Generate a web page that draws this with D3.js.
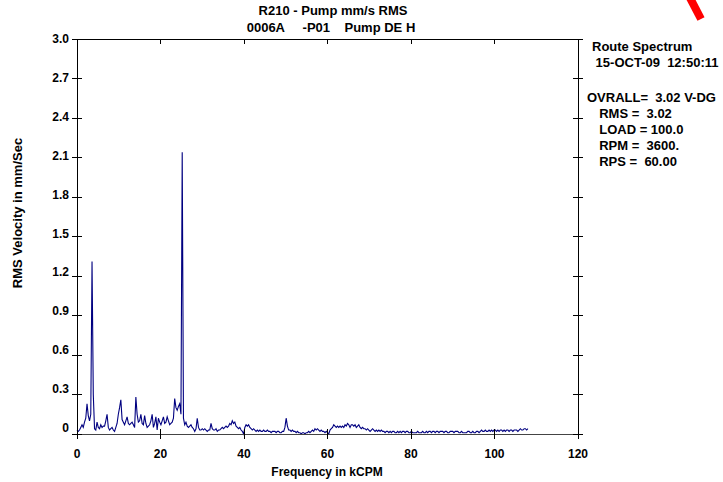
<!DOCTYPE html>
<html><head><meta charset="utf-8">
<script src="https://cdn.jsdelivr.net/npm/d3@7"></script>
<style>
body{margin:0;background:#fff}
svg text{font-family:"Liberation Sans",Arial,sans-serif;font-weight:bold;fill:#000}
</style>
</head><body><svg id="c" width="723" height="482"></svg>
<script>
const titleLines = ["R210 - Pump mm/s RMS", "0006A     -P01    Pump DE H"];
const xTitle = "Frequency in kCPM";
const yTitle = "RMS Velocity in mm/Sec";
const xTicks = [0, 20, 40, 60, 80, 100, 120];
const yTicks = [0, 0.3, 0.6, 0.9, 1.2, 1.5, 1.8, 2.1, 2.4, 2.7, 3.0];
const yTickLabels = ["0", "0.3", "0.6", "0.9", "1.2", "1.5", "1.8", "2.1", "2.4", "2.7", "3.0"];
const infoLines = ["Route Spectrum", " 15-OCT-09  12:50:11", "", "OVRALL=  3.02 V-DG", "  RMS =  3.02", "  LOAD = 100.0", "  RPM =  3600.", "  RPS =  60.00"];
const freqStep = 0.3; // kCPM per spectral line
const rmsValues = [
  0.03,0.02,0.03,0.05,0.07,0.05,0.09,0.12,0.23,0.14,
  0.10,0.15,1.31,0.30,0.04,0.03,0.09,0.05,0.04,0.07,
  0.05,0.06,0.06,0.10,0.15,0.05,0.03,0.04,0.05,0.03,
  0.02,0.05,0.08,0.15,0.20,0.26,0.11,0.09,0.07,0.10,
  0.13,0.08,0.07,0.08,0.09,0.07,0.05,0.28,0.15,0.09,
  0.10,0.15,0.08,0.07,0.14,0.08,0.05,0.06,0.07,0.10,
  0.15,0.05,0.08,0.13,0.03,0.12,0.09,0.07,0.10,0.13,
  0.08,0.09,0.13,0.10,0.07,0.08,0.09,0.12,0.27,0.20,
  0.18,0.21,0.23,0.15,2.14,0.12,0.07,0.09,0.06,0.05,
  0.06,0.07,0.05,0.04,0.02,0.04,0.12,0.05,0.03,0.03,
  0.04,0.03,0.04,0.03,0.02,0.03,0.03,0.08,0.04,0.03,
  0.03,0.04,0.02,0.03,0.03,0.04,0.05,0.04,0.05,0.06,
  0.05,0.06,0.08,0.07,0.10,0.08,0.09,0.06,0.05,0.04,
  0.05,0.03,0.02,0.00,0.05,0.07,0.06,0.07,0.05,0.04,
  0.03,0.04,0.03,0.02,0.03,0.02,0.03,0.02,0.02,0.03,
  0.02,0.02,0.03,0.02,0.02,0.01,0.02,0.02,0.02,0.01,
  0.02,0.02,0.01,0.01,0.02,0.02,0.05,0.12,0.06,0.03,
  0.03,0.02,0.03,0.02,0.02,0.01,0.02,0.01,0.01,0.00,
  0.01,0.01,0.00,0.01,0.01,0.02,0.01,0.02,0.03,0.02,
  0.04,0.03,0.04,0.03,0.02,0.03,0.02,0.02,0.01,0.02,
  0.01,0.00,0.03,0.04,0.05,0.07,0.06,0.05,0.06,0.05,
  0.06,0.05,0.06,0.05,0.07,0.06,0.08,0.07,0.05,0.07,
  0.07,0.06,0.07,0.05,0.06,0.07,0.05,0.04,0.05,0.04,
  0.04,0.03,0.04,0.03,0.02,0.03,0.04,0.03,0.02,0.03,
  0.02,0.03,0.02,0.03,0.02,0.02,0.01,0.02,0.02,0.01,
  0.02,0.01,0.02,0.02,0.01,0.01,0.02,0.01,0.02,0.01,
  0.02,0.02,0.01,0.02,0.02,0.01,0.01,0.02,0.01,0.01,
  0.01,0.01,0.02,0.01,0.01,0.01,0.02,0.01,0.01,0.02,
  0.01,0.02,0.02,0.01,0.02,0.02,0.01,0.02,0.02,0.01,
  0.02,0.02,0.02,0.01,0.02,0.02,0.01,0.01,0.02,0.02,
  0.02,0.01,0.02,0.02,0.02,0.01,0.01,0.02,0.01,0.01,
  0.01,0.01,0.02,0.02,0.01,0.01,0.02,0.01,0.01,0.02,
  0.02,0.01,0.02,0.03,0.02,0.02,0.03,0.02,0.02,0.03,
  0.02,0.03,0.02,0.03,0.03,0.02,0.03,0.02,0.03,0.03,
  0.02,0.03,0.02,0.03,0.03,0.02,0.03,0.03,0.02,0.03,
  0.03,0.03,0.02,0.03,0.04,0.03,0.03,0.04,0.04,0.03,
  0.04
];

const svg = d3.select("#c");
const x = d3.scaleLinear().domain([0, 120]).range([77, 578]);
const y = d3.scaleLinear().domain([0, 3]).range([434, 39]);
const fs = 12, fsBig = 13;

// red mark top-right
svg.append("line").attr("x1", 689).attr("y1", -4).attr("x2", 701).attr("y2", 19)
  .attr("stroke", "#ff0000").attr("stroke-width", 8);

// title
svg.append("text").attr("x", 333).attr("y", 15).attr("text-anchor", "middle")
  .style("font-size", fsBig + "px").style("white-space", "pre").text(titleLines[0]);
svg.append("text").attr("x", 331).attr("y", 32).attr("text-anchor", "middle")
  .style("font-size", fsBig + "px").style("white-space", "pre").text(titleLines[1]);

// spectrum line
const line = d3.line().x((d, i) => x(i * freqStep)).y(d => y(d));
svg.append("path").datum(rmsValues).attr("d", line)
  .attr("fill", "none").attr("stroke", "#000080").attr("stroke-width", 1.1);

// frame
const fr = svg.append("g").attr("stroke", "#000").attr("stroke-width", 1).attr("shape-rendering", "crispEdges");
fr.append("line").attr("x1", x(0)).attr("x2", x(0)).attr("y1", y(3)).attr("y2", y(0));
fr.append("line").attr("x1", x(120)).attr("x2", x(120)).attr("y1", y(3)).attr("y2", y(0));
fr.append("line").attr("x1", x(0)).attr("x2", x(120)).attr("y1", y(3)).attr("y2", y(3));
fr.append("line").attr("x1", x(0)).attr("x2", x(120)).attr("y1", y(0)).attr("y2", y(0)).attr("stroke", "#444");

// y ticks
yTicks.forEach((v, i) => {
  fr.append("line").attr("x1", x(0) - 5).attr("x2", x(0) + 5).attr("y1", y(v)).attr("y2", y(v));
  fr.append("line").attr("x1", x(120) - 5).attr("x2", x(120) + 5).attr("y1", y(v)).attr("y2", y(v));
  svg.append("text").attr("x", 69).attr("y", y(v) + 4 - 6 * (1 - v / 3)).attr("text-anchor", "end")
    .style("font-size", fs + "px").text(yTickLabels[i]);
});
// x ticks
xTicks.forEach(v => {
  fr.append("line").attr("x1", x(v)).attr("x2", x(v)).attr("y1", y(3)).attr("y2", y(3) + 5);
  fr.append("line").attr("x1", x(v)).attr("x2", x(v)).attr("y1", y(0) - 5).attr("y2", y(0) + 5);
  svg.append("text").attr("x", x(v)).attr("y", 458).attr("text-anchor", "middle")
    .style("font-size", fs + "px").text(v);
});

// axis titles
svg.append("text").attr("x", 327).attr("y", 476).attr("text-anchor", "middle")
  .style("font-size", fs + "px").text(xTitle);
svg.append("text").attr("transform", "translate(22,213) rotate(-90)").attr("text-anchor", "middle")
  .style("font-size", fsBig + "px").text(yTitle);

// info text on right
const infoY = [51, 67, 0, 102, 118, 134, 150, 166];
infoLines.forEach((t, i) => {
  if (!t) return;
  svg.append("text").attr("x", i === 3 ? 587 : 592).attr("y", infoY[i])
    .style("font-size", fsBig + "px").style("white-space", "pre").text(t);
});
</script>
</body></html>
